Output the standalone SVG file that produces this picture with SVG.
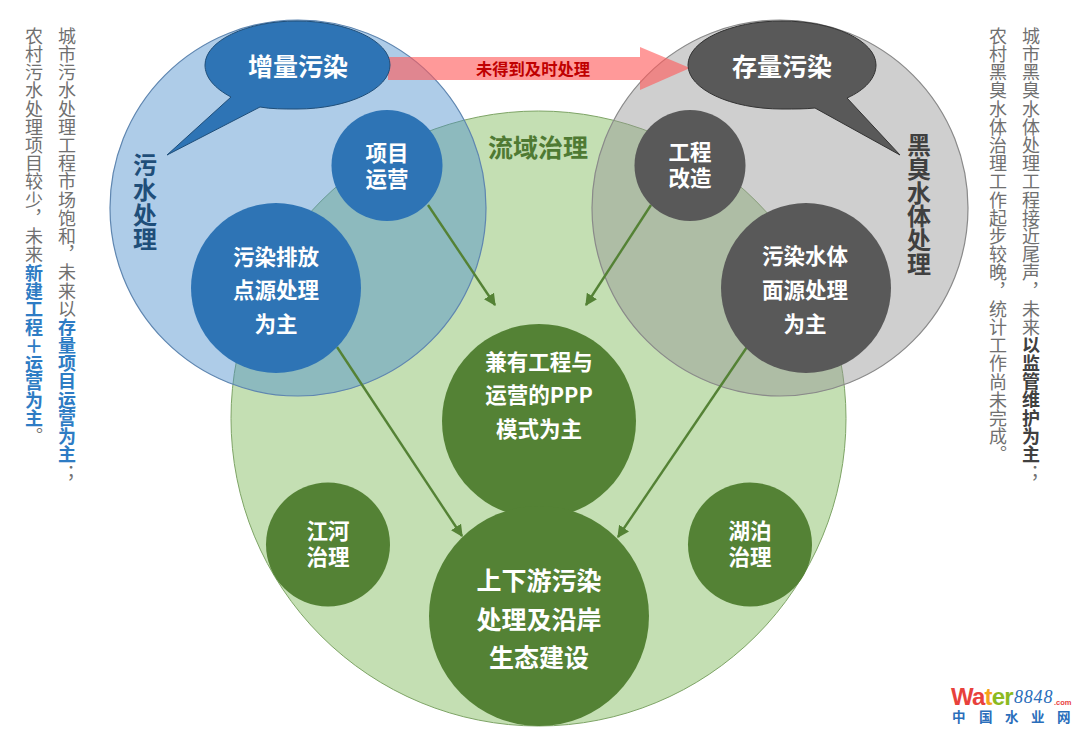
<svg xmlns="http://www.w3.org/2000/svg" width="1080" height="733" viewBox="0 0 1080 733">
<defs>
<marker id="ah" viewBox="0 0 10 10" refX="9" refY="5" markerWidth="12" markerHeight="12" markerUnits="userSpaceOnUse" orient="auto"><path d="M0 0L10 5L0 10Z" fill="#548235"/></marker>
</defs>
<style>
text{font-family:"Noto Sans CJK SC","Liberation Sans",sans-serif}
.lbl{fill:#fff;font-weight:700;text-anchor:middle;dominant-baseline:central;font-size:21.500px}
.big{font-size:25px}
.v{writing-mode:vertical-rl;font-size:18px;letter-spacing:.2px;fill:#707070}
.vb{font-weight:700;fill:#2e7cc4}
.vk{font-weight:700;fill:#404040}
.blue{fill:#2e74b5}
.dark{fill:#595959}
.grn{fill:#548235}
.side{writing-mode:vertical-rl;font-size:24px;font-weight:700;letter-spacing:.7px}
.conn{stroke:#548235;stroke-width:2.400;fill:none;marker-end:url(#ah)}
</style>
<rect width="1080" height="733" fill="#fff"/>
<g id="region-liuyu"><circle cx="538.500" cy="418.500" r="307.500" fill="#c4dfb3" stroke="#7ea466" stroke-width="1"/><text x="538" y="146" font-size="25" font-weight="700" fill="#4f7a33" text-anchor="middle" dominant-baseline="central">流域治理</text></g>
<g id="region-wushui"><circle cx="298" cy="208" r="188" fill="#4b8ecc" fill-opacity=".45" stroke="#5f86b0" stroke-width="1.200"/><text class="side" x="145" y="153" fill="#1f4e79">污水处理</text></g>
<g id="region-heichou"><circle cx="780" cy="208" r="188" fill="#959595" fill-opacity=".45" stroke="#8a8a8a" stroke-width="1.200"/><text class="side" x="919" y="133" fill="#404040" style="letter-spacing:-.3px">黑臭水体处理</text></g>
<g id="arrow-untreated"><path d="M388 57H640V47L690 68L640 90V80H388Z" fill="#ff5b5b" fill-opacity=".62"/><text x="533" y="68" font-size="16.300" font-weight="700" fill="#c00000" text-anchor="middle" dominant-baseline="central">未得到及时处理</text></g>
<g id="callout-zengliang"><path d="M167 155L231 97C214 88 205 77 205 65C205 41 246 21 297 21C348 21 390 41 390 65C390 89 348 109 297 109C283 109 271 109 260 107Z" class="blue" stroke="#1f4e79" stroke-width="1"/><text class="lbl big" x="298" y="65">增量污染</text></g>
<g id="callout-cunliang"><path d="M900 155L847 98C865 90 876 78 876 65C876 41 834 21 782 21C730 21 688 41 688 65C688 89 730 109 782 109C795 109 806 109 815 108Z" class="dark" stroke="#333" stroke-width="1"/><text class="lbl big" x="782" y="65">存量污染</text></g>
<g id="connectors">
<line class="conn" x1="428" y1="205" x2="495" y2="305"/>
<line class="conn" x1="651" y1="205" x2="586" y2="305"/>
<line class="conn" x1="337" y1="347" x2="462" y2="536"/>
<line class="conn" x1="747" y1="347" x2="618" y2="537"/>
</g>
<g id="node-xiangmu"><circle class="blue" cx="387" cy="165.500" r="55.500"/><text class="lbl" x="387" y="151">项目</text><text class="lbl" x="387" y="177">运营</text></g>
<g id="node-dianyuan"><circle class="blue" cx="276" cy="288" r="85"/><text class="lbl" x="276" y="255">污染排放</text><text class="lbl" x="276" y="288">点源处理</text><text class="lbl" x="276" y="322">为主</text></g>
<g id="node-gongcheng"><circle class="dark" cx="690" cy="165.500" r="55.500"/><text class="lbl" x="690" y="150">工程</text><text class="lbl" x="690" y="176">改造</text></g>
<g id="node-mianyuan"><circle class="dark" cx="806" cy="288" r="85"/><text class="lbl" x="805" y="254">污染水体</text><text class="lbl" x="805" y="288">面源处理</text><text class="lbl" x="805" y="322">为主</text></g>
<g id="node-ppp"><circle class="grn" cx="539" cy="421" r="97"/><text class="lbl" x="539" y="360">兼有工程与</text><text class="lbl" x="539" y="393">运营的PPP</text><text class="lbl" x="539" y="427">模式为主</text></g>
<g id="node-shangxia"><circle class="grn" cx="539" cy="616" r="110"/><text class="lbl big" x="539" y="579">上下游污染</text><text class="lbl big" x="539" y="618">处理及沿岸</text><text class="lbl big" x="539" y="656">生态建设</text></g>
<g id="node-jianghe"><circle class="grn" cx="328" cy="544.500" r="62"/><text class="lbl" x="328" y="529">江河</text><text class="lbl" x="328" y="555">治理</text></g>
<g id="node-hubo"><circle class="grn" cx="750" cy="544.500" r="62"/><text class="lbl" x="750" y="529">湖泊</text><text class="lbl" x="750" y="555">治理</text></g>
<g id="notes-left">
<text class="v" x="67" y="27">城市污水处理工程市场饱和，未来以<tspan class="vb">存量项目运营为主</tspan>；</text>
<text class="v" x="34" y="27">农村污水处理项目较少，未来<tspan class="vb">新建工程＋运营为主</tspan>。</text>
</g>
<g id="notes-right">
<text class="v" x="1031" y="27">城市黑臭水体处理工程接近尾声，未来<tspan class="vk">以监管维护为主</tspan>；</text>
<text class="v" x="998" y="27">农村黑臭水体治理工作起步较晚，统计工作尚未完成。</text>
</g>
<g id="logo">
<text x="951" y="705" font-size="24" font-weight="700" style="font-family:'Liberation Sans',sans-serif" letter-spacing="-.8"><tspan fill="#e8413c">Wa</tspan><tspan fill="#f5a31a">t</tspan><tspan fill="#8cba1f">er</tspan></text>
<text x="1014" y="703" font-size="18" font-style="italic" fill="#2a6ebb" style="font-family:'Liberation Serif',serif" letter-spacing=".8">8848</text>
<text x="1054" y="705" font-size="7.500" font-weight="700" fill="#e8413c" style="font-family:'Liberation Sans',sans-serif">.com</text>
<text x="952 979 1005 1031 1057" y="722" font-size="13.500" font-weight="700" fill="#2a6ebb">中国水业网</text>
</g>
</svg>
